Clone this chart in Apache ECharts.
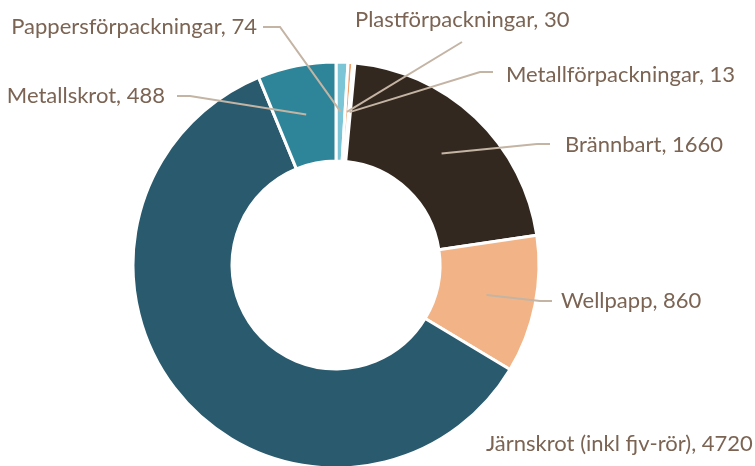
<!DOCTYPE html>
<html>
<head>
<meta charset="utf-8">
<script src="https://cdn.jsdelivr.net/npm/echarts@6/dist/echarts.min.js"></script>
<style>
  html, body {margin: 0; padding: 0; background: #fff;}
  #chart {width: 755px; height: 466px;}
</style>
</head>
<body>
<div id="chart"></div>
<script>
// data, clockwise from 12 o'clock
const names = ['Pappersförpackningar', 'Plastförpackningar', 'Metallförpackningar', 'Brännbart', 'Wellpapp', 'Järnskrot (inkl fjv-rör)', 'Metallskrot']
const values = [74, 30, 13, 1660, 860, 4720, 488]
const colors = ['#7cc5d6', '#f0a06c', '#ead8c4', '#33281f', '#f2b486', '#295a6d', '#2e8599']

// layout
const cx = 336, cy = 265, rIn = 104, rOut = 203
// label spot: [x, y, align, elbow x, line end x] per slice
const labelSpots = [
  [257, 27, 'right', 280, 263],
  [355, 20, 'left', 462, 462],
  [506, 75, 'left', 480, 493],
  [565, 145, 'left', 537, 550],
  [561, 301, 'left', 540, 552],
  [486, 444, 'left', null, null],
  [165, 96, 'right', 190, 177],
]
const lineY = [27, 42, 72, 144, 301, null, 96]

const total = values.reduce((a, b) => a + b, 0)
const midAngle = function (i) {
  let before = 0
  for (let k = 0; k < i; k++) before += values[k]
  return (before + values[i] / 2) / total * Math.PI * 2
}

const chart = echarts.init(document.getElementById('chart'))

const base = {
  type: 'pie',
  center: [cx, cy],
  radius: [rIn, rOut],
  startAngle: 90,
  clockwise: true,
  avoidLabelOverlap: false,
}

chart.setOption({
  animation: false,
  series: [{
    // the ring itself
    ...base,
    z: 2,
    itemStyle: {borderColor: '#fff', borderWidth: 3},
    label: {show: false},
    labelLine: {show: false},
    data: names.map((n, i) => ({name: n, value: values[i], itemStyle: {color: colors[i]}})),
  }, {
    // transparent copy on top, only for labels and leader lines
    ...base,
    z: 3,
    silent: true,
    itemStyle: {color: 'rgba(0,0,0,0)', borderWidth: 0},
    label: {
      show: true,
      formatter: '{b}, {c}',
      color: '#7b6453',
      fontFamily: 'Lato',
      fontSize: 22,
    },
    labelLine: {
      show: true,
      lineStyle: {color: '#c4b4a4', width: 2},
    },
    labelLayout: function (params) {
      const i = params.dataIndex
      const s = labelSpots[i]
      const out = {x: s[0], y: s[1], align: s[2], verticalAlign: 'middle'}
      if (s[3] != null) {
        const a = midAngle(i), rm = (rIn + rOut) / 2
        const anchor = [cx + rm * Math.sin(a), cy - rm * Math.cos(a)]
        out.labelLinePoints = [anchor, [s[3], lineY[i]], [s[4], lineY[i]]]
      }
      return out
    },
    data: names.map((n, i) => ({
      name: n,
      value: values[i],
      labelLine: {show: labelSpots[i][3] != null},
    })),
  }],
})
</script>
</body>
</html>
